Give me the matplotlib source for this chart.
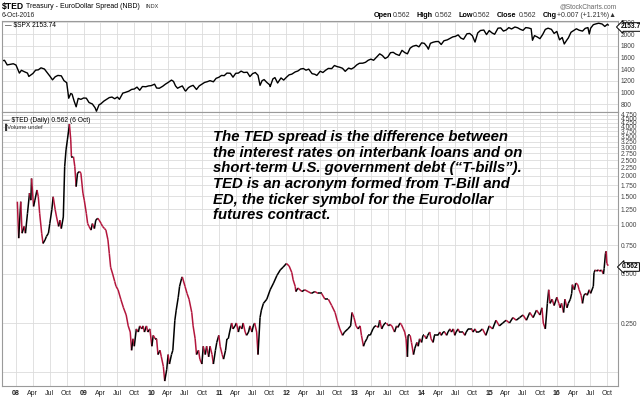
import matplotlib
matplotlib.use("Agg")
import matplotlib.pyplot as plt
from matplotlib.collections import LineCollection
from matplotlib.ticker import FixedLocator, NullFormatter
import numpy as np

# S&P 500 (top panel), decimal years
spx_t = [2007.79, 2007.83, 2007.87, 2007.92, 2007.96, 2008.00, 2008.05, 2008.08, 2008.13, 2008.17,
         2008.19, 2008.25, 2008.29, 2008.33, 2008.37, 2008.42, 2008.46, 2008.50, 2008.54, 2008.58,
         2008.62, 2008.67, 2008.71, 2008.75, 2008.78, 2008.81, 2008.83, 2008.86, 2008.89, 2008.92,
         2008.96, 2009.00, 2009.04, 2009.08, 2009.13, 2009.17, 2009.19, 2009.23, 2009.25, 2009.30,
         2009.33, 2009.38, 2009.42, 2009.46, 2009.50, 2009.53, 2009.58, 2009.62, 2009.67, 2009.71,
         2009.75, 2009.79, 2009.83, 2009.87, 2009.92, 2009.96, 2010.00, 2010.05, 2010.08, 2010.12,
         2010.17, 2010.21, 2010.25, 2010.30, 2010.33, 2010.36, 2010.39, 2010.42, 2010.46, 2010.50,
         2010.51, 2010.55, 2010.58, 2010.62, 2010.67, 2010.71, 2010.75, 2010.79, 2010.83, 2010.87,
         2010.92, 2010.96, 2011.00, 2011.04, 2011.08, 2011.12, 2011.17, 2011.21, 2011.25, 2011.29,
         2011.33, 2011.37, 2011.42, 2011.46, 2011.50, 2011.54, 2011.58, 2011.61, 2011.64, 2011.67,
         2011.71, 2011.75, 2011.76, 2011.80, 2011.83, 2011.87, 2011.92, 2011.96, 2012.00, 2012.04,
         2012.08, 2012.13, 2012.17, 2012.21, 2012.25, 2012.29, 2012.33, 2012.38, 2012.42, 2012.45,
         2012.50, 2012.54, 2012.58, 2012.62, 2012.67, 2012.71, 2012.75, 2012.79, 2012.83, 2012.87,
         2012.92, 2012.96, 2013.00, 2013.04, 2013.08, 2013.13, 2013.17, 2013.21, 2013.25, 2013.29,
         2013.33, 2013.38, 2013.42, 2013.46, 2013.50, 2013.54, 2013.58, 2013.62, 2013.67, 2013.71,
         2013.75, 2013.79, 2013.83, 2013.87, 2013.92, 2013.96, 2014.00, 2014.04, 2014.08, 2014.10,
         2014.13, 2014.17, 2014.21, 2014.25, 2014.29, 2014.33, 2014.38, 2014.42, 2014.46, 2014.50,
         2014.54, 2014.58, 2014.62, 2014.67, 2014.71, 2014.75, 2014.79, 2014.83, 2014.87, 2014.92,
         2014.96, 2015.00, 2015.04, 2015.08, 2015.13, 2015.17, 2015.21, 2015.25, 2015.29, 2015.33,
         2015.38, 2015.42, 2015.46, 2015.50, 2015.54, 2015.58, 2015.62, 2015.64, 2015.67, 2015.71,
         2015.75, 2015.79, 2015.83, 2015.87, 2015.92, 2015.96, 2016.00, 2016.04, 2016.08, 2016.11,
         2016.15, 2016.17, 2016.21, 2016.25, 2016.29, 2016.33, 2016.38, 2016.42, 2016.46, 2016.48,
         2016.50, 2016.54, 2016.58, 2016.62, 2016.67, 2016.71, 2016.75, 2016.76]
spx_v = [1540, 1549, 1470, 1481, 1490, 1468, 1330, 1378, 1350, 1330,
         1273, 1323, 1380, 1386, 1420, 1400, 1340, 1280, 1214, 1267,
         1290, 1283, 1200, 1166, 899, 980, 969, 850, 752, 896,
         880, 903, 900, 826, 800, 735, 676, 790, 798, 850,
         873, 910, 919, 890, 919, 880, 987, 1000, 1021, 1050,
         1057, 1090, 1036, 1100, 1096, 1110, 1115, 1140, 1074, 1070,
         1104, 1140, 1169, 1210, 1187, 1110, 1070, 1089, 1110, 1031,
         1022, 1080, 1102, 1120, 1049, 1110, 1141, 1170, 1183, 1200,
         1181, 1240, 1258, 1290, 1286, 1330, 1327, 1260, 1326, 1330,
         1364, 1340, 1345, 1270, 1321, 1340, 1292, 1120, 1200, 1219,
         1170, 1131, 1099, 1230, 1253, 1160, 1247, 1210, 1258, 1300,
         1312, 1350, 1366, 1400, 1408, 1380, 1398, 1320, 1310, 1290,
         1362, 1340, 1379, 1410, 1407, 1460, 1441, 1430, 1412, 1360,
         1416, 1400, 1426, 1470, 1498, 1500, 1515, 1550, 1569, 1550,
         1598, 1660, 1631, 1580, 1606, 1680, 1686, 1655, 1633, 1720,
         1682, 1660, 1757, 1790, 1806, 1780, 1848, 1840, 1783, 1740,
         1840, 1859, 1870, 1872, 1820, 1884, 1900, 1924, 1950, 1960,
         1985, 1931, 1910, 2003, 2010, 1972, 1862, 2018, 2060, 2068,
         1990, 2059, 2020, 1995, 2100, 2105, 2050, 2068, 2110, 2086,
         2120, 2107, 2080, 2063, 2110, 2104, 2090, 1893, 1972, 1950,
         1920, 1990, 2079, 2100, 2080, 2010, 2044, 1900, 1940, 1829,
         1900, 1932, 2030, 2060, 2090, 2065, 2050, 2097, 2110, 2000,
         2099, 2160, 2174, 2185, 2171, 2130, 2168, 2154]

# TED spread (bottom panel), decimal years
ted_t = [2008.02, 2008.04, 2008.07, 2008.09, 2008.12, 2008.14, 2008.17, 2008.20, 2008.22, 2008.23,
         2008.26, 2008.28, 2008.31, 2008.33, 2008.35, 2008.38, 2008.40, 2008.43, 2008.45, 2008.48,
         2008.50, 2008.53, 2008.55, 2008.58, 2008.60, 2008.63, 2008.65, 2008.67, 2008.70, 2008.72,
         2008.74, 2008.76, 2008.78, 2008.79, 2008.81, 2008.82, 2008.85, 2008.87, 2008.89, 2008.91,
         2008.94, 2008.96, 2008.99, 2009.01, 2009.04, 2009.06, 2009.08, 2009.11, 2009.13, 2009.16,
         2009.18, 2009.21, 2009.23, 2009.26, 2009.28, 2009.31, 2009.33, 2009.36, 2009.38, 2009.40,
         2009.43, 2009.46, 2009.48, 2009.51, 2009.55, 2009.59, 2009.63, 2009.66, 2009.69, 2009.71,
         2009.73, 2009.75, 2009.78, 2009.81, 2009.83, 2009.86, 2009.88, 2009.90, 2009.93, 2009.95,
         2009.98, 2010.01, 2010.03, 2010.06, 2010.08, 2010.10, 2010.13, 2010.15, 2010.18, 2010.20,
         2010.23, 2010.25, 2010.27, 2010.30, 2010.32, 2010.35, 2010.37, 2010.40, 2010.42, 2010.45,
         2010.46, 2010.50, 2010.53, 2010.56, 2010.60, 2010.62, 2010.65, 2010.67, 2010.70, 2010.72,
         2010.75, 2010.77, 2010.80, 2010.82, 2010.85, 2010.87, 2010.90, 2010.92, 2010.95, 2010.97,
         2011.00, 2011.02, 2011.05, 2011.07, 2011.10, 2011.12, 2011.14, 2011.16, 2011.19, 2011.21,
         2011.24, 2011.26, 2011.29, 2011.31, 2011.34, 2011.36, 2011.39, 2011.41, 2011.44, 2011.46,
         2011.49, 2011.51, 2011.53, 2011.56, 2011.58, 2011.61, 2011.63, 2011.66, 2011.71, 2011.76,
         2011.81, 2011.86, 2011.91, 2011.95, 2012.00, 2012.04, 2012.08, 2012.10, 2012.13, 2012.14,
         2012.17, 2012.23, 2012.27, 2012.32, 2012.37, 2012.42, 2012.47, 2012.52, 2012.57, 2012.62,
         2012.67, 2012.72, 2012.75, 2012.79, 2012.83, 2012.86, 2012.91, 2012.95, 2012.97, 2013.00,
         2013.03, 2013.06, 2013.09, 2013.11, 2013.14, 2013.16, 2013.19, 2013.21, 2013.24, 2013.26,
         2013.28, 2013.31, 2013.33, 2013.36, 2013.38, 2013.41, 2013.43, 2013.46, 2013.48, 2013.51,
         2013.53, 2013.56, 2013.58, 2013.60, 2013.63, 2013.65, 2013.68, 2013.70, 2013.73, 2013.75,
         2013.77, 2013.79, 2013.80, 2013.83, 2013.85, 2013.88, 2013.90, 2013.93, 2013.95, 2013.97,
         2014.00, 2014.02, 2014.04, 2014.07, 2014.09, 2014.12, 2014.14, 2014.17, 2014.19, 2014.22,
         2014.24, 2014.27, 2014.29, 2014.32, 2014.34, 2014.37, 2014.39, 2014.42, 2014.44, 2014.47,
         2014.49, 2014.51, 2014.54, 2014.56, 2014.59, 2014.61, 2014.64, 2014.66, 2014.69, 2014.71,
         2014.74, 2014.76, 2014.79, 2014.81, 2014.85, 2014.90, 2014.95, 2015.00, 2015.05, 2015.10,
         2015.15, 2015.20, 2015.25, 2015.30, 2015.35, 2015.40, 2015.45, 2015.50, 2015.55, 2015.60,
         2015.65, 2015.70, 2015.75, 2015.78, 2015.80, 2015.83, 2015.86, 2015.88, 2015.90, 2015.93,
         2015.96, 2016.00, 2016.03, 2016.05, 2016.07, 2016.10, 2016.12, 2016.15, 2016.17, 2016.20,
         2016.22, 2016.23, 2016.26, 2016.28, 2016.31, 2016.33, 2016.36, 2016.38, 2016.40, 2016.43,
         2016.45, 2016.48, 2016.50, 2016.54, 2016.55, 2016.57, 2016.59, 2016.61, 2016.64, 2016.66,
         2016.69, 2016.70, 2016.72, 2016.73, 2016.74, 2016.76]
ted_v = [1.39, 0.83, 1.39, 0.89, 0.98, 0.89, 1.18, 1.57, 1.42, 1.93,
         1.30, 1.42, 1.64, 1.49, 1.18, 0.89, 0.77, 0.81, 0.85, 0.89,
         1.02, 1.24, 1.49, 1.24, 1.12, 0.98, 1.07, 0.95, 1.12, 2.28,
         2.89, 3.33, 3.83, 4.17, 3.33, 2.63, 2.63, 2.28, 1.72, 2.08,
         2.13, 2.08, 1.57, 1.42, 1.18, 1.02, 0.98, 0.93, 1.02, 0.95,
         1.07, 1.10, 1.07, 1.02, 0.98, 0.95, 0.93, 0.81, 0.67, 0.55,
         0.50, 0.45, 0.42, 0.40, 0.35, 0.31, 0.28, 0.24, 0.22, 0.17,
         0.20, 0.18, 0.23, 0.22, 0.24, 0.23, 0.24, 0.22, 0.24, 0.22,
         0.23, 0.18, 0.21, 0.20, 0.20, 0.16, 0.17, 0.155, 0.135, 0.11,
         0.13, 0.16, 0.14, 0.16, 0.17, 0.26, 0.30, 0.36, 0.42, 0.47,
         0.48, 0.42, 0.38, 0.35, 0.29, 0.24, 0.20, 0.16, 0.17, 0.15,
         0.14, 0.18, 0.16, 0.18, 0.155, 0.18, 0.16, 0.14, 0.17, 0.19,
         0.21, 0.18, 0.16, 0.15, 0.17, 0.20, 0.20, 0.22, 0.25, 0.23,
         0.24, 0.25, 0.22, 0.24, 0.23, 0.25, 0.22, 0.21, 0.22, 0.24,
         0.22, 0.24, 0.25, 0.22, 0.16, 0.27, 0.30, 0.33, 0.35, 0.40,
         0.44, 0.49, 0.53, 0.55, 0.58, 0.56, 0.51, 0.46, 0.42, 0.39,
         0.41, 0.39, 0.40, 0.39, 0.38, 0.39, 0.38, 0.38, 0.35, 0.35,
         0.32, 0.29, 0.26, 0.23, 0.21, 0.22, 0.23, 0.24, 0.29, 0.27,
         0.24, 0.23, 0.24, 0.21, 0.18, 0.19, 0.20, 0.21, 0.21, 0.22,
         0.23, 0.24, 0.24, 0.235, 0.26, 0.23, 0.24, 0.25, 0.25, 0.24,
         0.245, 0.24, 0.23, 0.22, 0.24, 0.235, 0.25, 0.245, 0.23, 0.22,
         0.20, 0.155, 0.21, 0.21, 0.19, 0.16, 0.175, 0.19, 0.18, 0.20,
         0.19, 0.21, 0.21, 0.20, 0.21, 0.22, 0.20, 0.19, 0.21, 0.21,
         0.21, 0.22, 0.21, 0.22, 0.22, 0.21, 0.22, 0.23, 0.22, 0.23,
         0.21, 0.22, 0.23, 0.22, 0.22, 0.22, 0.21, 0.22, 0.23, 0.23,
         0.23, 0.22, 0.23, 0.22, 0.22, 0.23, 0.21, 0.24, 0.23, 0.26,
         0.24, 0.25, 0.26, 0.25, 0.27, 0.26, 0.27, 0.28, 0.26, 0.29,
         0.27, 0.30, 0.28, 0.31, 0.25, 0.23, 0.33, 0.40, 0.33, 0.35,
         0.32, 0.36, 0.33, 0.31, 0.33, 0.29, 0.35, 0.31, 0.33, 0.35,
         0.38, 0.43, 0.40, 0.44, 0.43, 0.40, 0.37, 0.33, 0.37, 0.38,
         0.37, 0.40, 0.38, 0.42, 0.51, 0.53, 0.52, 0.53, 0.52, 0.53,
         0.50, 0.54, 0.67, 0.69, 0.58, 0.562]

years = list(range(2008, 2017))
quarter_offsets = [0.0, 0.247, 0.496, 0.748]
month_names = ["Apr", "Jul", "Oct"]
spx_ticks = [800, 1000, 1200, 1400, 1600, 1800, 2000, 2200]
ted_ticks = [0.25, 0.5, 0.75, 1.0, 1.25, 1.5, 1.75, 2.0, 2.25, 2.5, 2.75, 3.0,
             3.25, 3.5, 3.75, 4.0, 4.25, 4.5, 4.75]

note = ("The TED spread is the difference between\n"
        "the interest rates on interbank loans and on\n"
        "short-term U.S. government debt (\u201cT-bills\u201d).\n"
        "TED is an acronym formed from T-Bill and\n"
        "ED, the ticker symbol for the Eurodollar\n"
        "futures contract.")

plt.rcParams['font.family'] = ['Liberation Sans', 'DejaVu Sans']

W, H = 640, 397
fig = plt.figure(figsize=(W / 100, H / 100), dpi=100)


def box(l, t, r, b):
    return [l / W, 1 - b / H, (r - l) / W, (b - t) / H]


def px(x, y):
    return x / W, 1 - y / H


ax1 = fig.add_axes(box(2, 21, 618, 112))
ax2 = fig.add_axes(box(2, 112, 618, 386))

xmin, xmax = 2007.793, 2016.905
qticks = [y + q for y in years for q in quarter_offsets]
qlabels = []
for y in years:
    qlabels += ["%02d" % (y % 100)] + month_names

grid_c = "#dcdcdc"
for ax in (ax1, ax2):
    ax.set_xlim(xmin, xmax)
    ax.set_xticks(qticks)
    ax.yaxis.tick_right()
    ax.tick_params(axis="both", which="both", length=0, labelsize=4.8,
                   labelcolor="#444444", pad=2)
    ax.grid(True, which="both", color=grid_c, lw=0.6)
    ax.set_axisbelow(True)
    for s in ax.spines.values():
        s.set_color("#9a9a9a")
        s.set_linewidth(0.8)

# top panel
ax1.plot(spx_t, spx_v, color="black", lw=1.0)
ax1.set_ylim(663, 2223)
ax1.set_yticks(spx_ticks)
ax1.set_yticklabels([str(v) for v in spx_ticks])
ax1.set_xticklabels([])

# bottom panel
ax2.set_yscale("log")
pts = np.column_stack([ted_t, ted_v])
segs = np.stack([pts[:-1], pts[1:]], axis=1)
cols = ["black" if b >= a else "#b3163d" for a, b in zip(ted_v[:-1], ted_v[1:])]
ax2.add_collection(LineCollection(segs, colors=cols, linewidths=1.1))
ax2.set_ylim(0.1026, 4.94)
ax2.yaxis.set_major_locator(FixedLocator(ted_ticks))
ax2.set_yticklabels(["%.3f" % v for v in ted_ticks])
ax2.yaxis.set_minor_locator(FixedLocator([0.125]))
ax2.yaxis.set_minor_formatter(NullFormatter())
ax2.set_xticklabels(qlabels)
ax2.tick_params(axis="x", labelsize=5, labelcolor="#222222", pad=3)
for i, lab in enumerate(ax2.get_xticklabels()):
    if i % 4 == 0:
        lab.set_fontweight("bold")

fig.text(*px(213, 130), note, fontsize=10.7, fontweight="bold", fontstyle="italic",
         va="top", ha="left", linespacing=1.15)

# header
fig.text(*px(2, 6), "$TED", fontsize=6.2, fontweight="bold", va="center")
fig.text(*px(26, 6), "Treasury - EuroDollar Spread (NBD)", fontsize=5, va="center")
fig.text(*px(145, 6), "INDX", fontsize=4, va="center", color="#333333")
fig.text(*px(2, 15.5), "6-Oct-2016", fontsize=4.8, va="center", color="#222222")
fig.text(*px(617, 7), "@StockCharts.com", fontsize=4.8, ha="right", va="center",
         color="#666666")
hdr = [("Open", "0.562"), ("High", "0.562"), ("Low", "0.562"), ("Close", "0.562"),
       ("Chg", "+0.007 (+1.21%)\u25b2")]
xp = 374
for k, v in hdr:
    fig.text(*px(xp, 15.5), k, fontsize=5.2, fontweight="bold", va="center")
    xp += len(k) * 3.9 + 3
    fig.text(*px(xp, 15.5), v, fontsize=5, va="center", color="#333333")
    xp += len(v) * 3.3 + 7

# legends
fig.text(*px(5, 25), "\u2014 $SPX 2153.74", fontsize=4.8, va="center")
fig.text(*px(3, 120), "\u2014 $TED (Daily) 0.562 (6 Oct)", fontsize=4.8, va="center")
fig.text(*px(3, 127), "\u2590Volume undef", fontsize=4.2, va="center", color="#333333")

# last value markers
fig.text(*px(621, 27), "2153.74", fontsize=4.8, fontweight="bold", va="center",
         bbox=dict(boxstyle="larrow,pad=0.12", fc="white", ec="black", lw=0.7))
fig.text(*px(622, 267), "0.562", fontsize=4.8, fontweight="bold", va="center",
         bbox=dict(boxstyle="larrow,pad=0.12", fc="white", ec="black", lw=0.7))

fig.savefig("out.png", dpi=100)
